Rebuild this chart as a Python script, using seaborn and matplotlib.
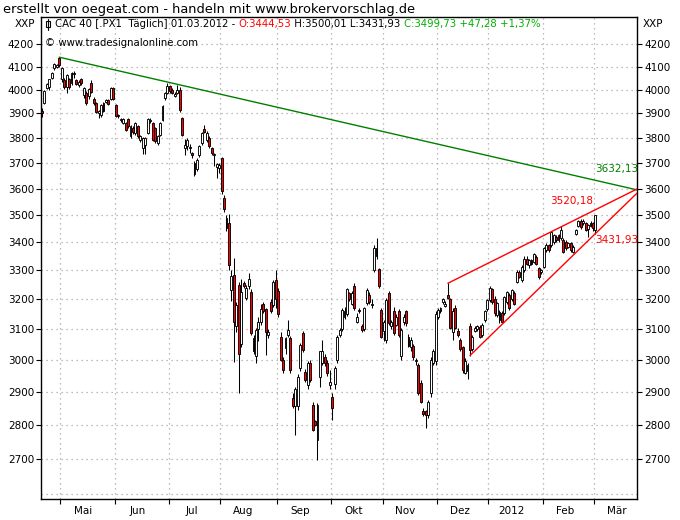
import numpy as np
import pandas as pd
import matplotlib
matplotlib.use("Agg")
import matplotlib.pyplot as plt
import seaborn as sns
from matplotlib.ticker import FixedLocator, FixedFormatter, NullLocator, NullFormatter
from matplotlib.patches import Rectangle
from matplotlib.lines import Line2D

# ---------------- data (CAC 40 daily, 18.04.2011 - 01.03.2012) ----------------
opens = [
    3912, 3945, 4008, 4010, 4049, 4092, 4098, 4138, 4045, 4042,
    4012, 4045, 4027, 4072, 4040, 4020, 4046, 3978, 3985, 3975,
    4027, 3962, 3942, 3900, 3892, 3942, 3950, 3955, 3962, 4006,
    3934, 3888, 3872, 3862, 3862, 3876, 3806, 3840, 3820, 3848,
    3792, 3758, 3770, 3820, 3868, 3860, 3840, 3780, 3813, 3874,
    3965, 3986, 4015, 4000, 3975, 3988, 4000, 3880, 3760, 3766,
    3765, 3738, 3700, 3675, 3730, 3780, 3835, 3793, 3800, 3760,
    3730, 3685, 3680, 3720, 3565, 3490, 3470, 3232, 3285, 3110,
    3250, 3050, 3255, 3205, 3245, 3225, 3070, 3013, 3100, 3125,
    3185, 3168, 3080, 3190, 3180, 3266, 3227, 3075, 3000, 3037,
    3080, 3070, 2880, 2855, 2855, 2973, 3086, 2963, 2922, 2990,
    2860, 2810, 2756, 2947, 2990, 3010, 2990, 2920, 2885, 2925,
    3000, 3080, 3100, 3140, 3150, 3220, 3185, 3245, 3124, 3165,
    3110, 3100, 3186, 3215, 3180, 3301, 3380, 3306, 3163, 3095,
    3064, 3220, 3110, 3160, 3115, 3160, 3013, 3125, 3160, 3075,
    3040, 3045, 2995, 2985, 2927, 2840, 2840, 2830, 2895, 2990,
    2995, 3140, 3160, 3190, 3178, 3215, 3200, 3090, 3170, 3095,
    3065, 3040, 2960, 2965, 3110, 3035, 3095, 3100, 3108, 3080,
    3130, 3167, 3197, 3236, 3202, 3147, 3158, 3152, 3152, 3192,
    3214, 3200, 3220, 3260, 3295, 3266, 3301, 3342, 3318, 3336,
    3330, 3348, 3307, 3295, 3313, 3372, 3390, 3390, 3400, 3420,
    3408, 3416, 3408, 3400, 3384, 3396, 3366, 3430, 3460, 3478,
    3470, 3470, 3450, 3460, 3470, 3444.53,
]
highs = [
    3922, 4000, 4030, 4048, 4078, 4115, 4112, 4141, 4100, 4050,
    4068, 4052, 4076, 4082, 4048, 4040, 4052, 4010, 3995, 4008,
    4040, 3968, 3946, 3915, 3940, 3950, 3960, 3962, 4010, 4012,
    3940, 3896, 3882, 3880, 3866, 3882, 3852, 3850, 3866, 3852,
    3810, 3802, 3805, 3880, 3880, 3866, 3846, 3812, 3866, 3935,
    3990, 4027, 4020, 4008, 3990, 4020, 4010, 3885, 3795, 3800,
    3775, 3745, 3708, 3718, 3770, 3825, 3852, 3830, 3808, 3765,
    3740, 3700, 3700, 3725, 3575, 3500, 3505, 3300, 3345, 3190,
    3260, 3270, 3262, 3250, 3290, 3235, 3080, 3105, 3140, 3185,
    3190, 3172, 3100, 3200, 3265, 3300, 3240, 3090, 3010, 3075,
    3130, 3078, 2895, 2915, 2955, 3055, 3095, 2970, 2995, 3000,
    2870, 2815, 2865, 3030, 3064, 3020, 3000, 2968, 2895, 2980,
    3080, 3105, 3170, 3175, 3240, 3225, 3230, 3255, 3155, 3170,
    3118, 3175, 3240, 3225, 3200, 3390, 3415, 3310, 3170, 3130,
    3205, 3230, 3130, 3175, 3150, 3168, 3105, 3150, 3165, 3085,
    3075, 3050, 3005, 2990, 2935, 2850, 2845, 2875, 3010, 3035,
    3160, 3170, 3175, 3205, 3195, 3255, 3205, 3170, 3180, 3105,
    3070, 3045, 3005, 2990, 3120, 3080, 3110, 3115, 3115, 3120,
    3165, 3200, 3246, 3240, 3210, 3192, 3165, 3160, 3212, 3230,
    3220, 3235, 3228, 3300, 3302, 3318, 3350, 3350, 3342, 3342,
    3362, 3355, 3312, 3305, 3384, 3396, 3395, 3442, 3432, 3428,
    3432, 3458, 3415, 3408, 3400, 3402, 3392, 3450, 3482, 3484,
    3486, 3476, 3468, 3478, 3474, 3500.01,
]
lows = [
    3885, 3938, 4002, 4000, 4044, 4085, 4092, 4100, 4035, 4002,
    3984, 4005, 4020, 4052, 4018, 4010, 4022, 3965, 3935, 3960,
    3985, 3935, 3900, 3880, 3885, 3905, 3945, 3935, 3955, 3955,
    3885, 3880, 3865, 3855, 3828, 3840, 3800, 3815, 3812, 3800,
    3785, 3737, 3737, 3815, 3860, 3786, 3780, 3772, 3808, 3868,
    3958, 3980, 3988, 3980, 3968, 3980, 3905, 3808, 3733, 3750,
    3740, 3720, 3650, 3668, 3722, 3772, 3820, 3785, 3760, 3733,
    3687, 3640, 3660, 3578, 3512, 3440, 3300, 3195, 2992, 3090,
    2895, 3040, 3238, 3198, 3235, 3080, 3020, 2990, 3060, 3115,
    3155, 3016, 3070, 3155, 3175, 3170, 3140, 2995, 2960, 3020,
    3075, 2960, 2850, 2770, 2845, 2965, 3025, 2930, 2910, 2930,
    2780, 2795, 2698, 2915, 2985, 2980, 2950, 2910, 2815, 2910,
    2990, 3075, 3095, 3135, 3145, 3195, 3180, 3165, 3120, 3155,
    3090, 3095, 3180, 3185, 3170, 3295, 3340, 3240, 3070, 3060,
    3055, 3115, 3100, 3080, 3110, 3075, 3000, 3115, 3110, 3040,
    3030, 3000, 2985, 2890, 2865, 2825, 2790, 2820, 2885, 2985,
    2985, 3135, 3155, 3185, 3175, 3200, 3100, 3065, 3100, 3075,
    3030, 2960, 2955, 2940, 3014, 3030, 3090, 3095, 3070, 3075,
    3125, 3160, 3190, 3185, 3145, 3140, 3120, 3120, 3148, 3185,
    3165, 3195, 3180, 3255, 3272, 3260, 3295, 3318, 3310, 3318,
    3325, 3318, 3270, 3288, 3308, 3366, 3366, 3384, 3395, 3400,
    3402, 3410, 3360, 3372, 3378, 3366, 3360, 3425, 3455, 3450,
    3465, 3440, 3420, 3455, 3442, 3431.93,
]
closes = [
    3900, 3996, 4024, 4044, 4072, 4110, 4105, 4106, 4093, 4012,
    4064, 4012, 4071, 4066, 4025, 4035, 4027, 4006, 3942, 4004,
    3991, 3945, 3905, 3910, 3934, 3912, 3955, 3941, 4006, 3962,
    3891, 3893, 3876, 3876, 3834, 3848, 3848, 3825, 3862, 3806,
    3806, 3799, 3799, 3876, 3872, 3793, 3786, 3806, 3860, 3930,
    3986, 4015, 3993, 3986, 3982, 4000, 3916, 3813, 3773, 3793,
    3758, 3732, 3655, 3713, 3766, 3820, 3825, 3820, 3766, 3739,
    3735, 3695, 3690, 3590, 3522, 3452, 3320, 3280, 3125, 3180,
    3020, 3225, 3245, 3240, 3270, 3087, 3030, 3098, 3125, 3168,
    3160, 3092, 3092, 3160, 3260, 3200, 3150, 3000, 2968, 3070,
    3097, 2968, 2855, 2910, 2947, 3048, 3032, 2937, 2990, 2937,
    2785, 2800, 2860, 3027, 3027, 2990, 2960, 2930, 2850, 2973,
    3075, 3097, 3163, 3160, 3235, 3200, 3220, 3170, 3140, 3160,
    3097, 3170, 3231, 3190, 3185, 3380, 3350, 3247, 3075, 3125,
    3197, 3120, 3125, 3087, 3140, 3080, 3097, 3140, 3120, 3045,
    3064, 3008, 3000, 2895, 2870, 2832, 2830, 2870, 3000, 3027,
    3150, 3163, 3170, 3200, 3185, 3205, 3105, 3160, 3105, 3080,
    3035, 2968, 2998, 2985, 3032, 3075, 3105, 3110, 3075, 3115,
    3160, 3197, 3240, 3192, 3152, 3186, 3130, 3125, 3208, 3225,
    3169, 3231, 3185, 3295, 3278, 3313, 3342, 3324, 3336, 3324,
    3358, 3324, 3278, 3301, 3378, 3390, 3372, 3436, 3428, 3408,
    3428, 3445, 3367, 3378, 3396, 3372, 3384, 3445, 3478, 3455,
    3480, 3445, 3465, 3470, 3452, 3499.73,
]

# trend lines: anchor bar index and value
green_idx = [7, 225]
green_val = [4141.0, 3632.13]
red_up_idx = [165, 225]
red_up_val = [3255.0, 3520.18]
red_lo_idx = [174, 225]
red_lo_val = [3014.0, 3431.93]

month_labels = ["Mai", "Jun", "Jul", "Aug", "Sep", "Okt", "Nov", "Dez", "2012", "Feb", "Mär"]
y_ticks = [2700, 2800, 2900, 3000, 3100, 3200, 3300, 3400, 3500,
           3600, 3700, 3800, 3900, 4000, 4100, 4200]
grid_levels = [2600] + y_ticks

title = "erstellt von oegeat.com - handeln mit www.brokervorschlag.de"

# ---------------- figure ----------------
sns.set_theme(style="white")
plt.rcParams["font.family"] = ["DejaVu Sans"]

W, H = 680, 520
fig = plt.figure(figsize=(W / 100, H / 100), dpi=100, facecolor="white")
L, R, T, B = 41, 637, 17, 499
ax = fig.add_axes([L / W, 1 - B / H, (R - L) / W, (B - T) / H])
ax.set_facecolor("white")

o = np.array(opens, float)
h = np.array(highs, float)
l = np.array(lows, float)
c = np.array(closes, float)
n = len(c)
x = np.arange(n)

dates = pd.bdate_range("2011-04-18", "2012-03-01", freq="C",
                       holidays=["2011-04-22", "2011-04-25", "2011-12-26"])[:n]

ax.set_yscale("log")
x_left, x_right = -0.4, 241.9
ax.set_xlim(x_left, x_right)
ax.set_ylim(2587, 4322)

# grid
grid_kw = dict(color="#a8a8a8", lw=0.9, ls=(0, (1, 3)), zorder=0)
for g in grid_levels:
    ax.axhline(g, **grid_kw)
bounds = [i - 0.5 for i in range(1, n) if dates[i].month != dates[i - 1].month]
for b in bounds:
    ax.axvline(b, **grid_kw)

# candles
up = c >= o
ax.vlines(x, l, h, color="black", lw=0.75, zorder=2)
bw = 0.78
ax.bar(x[up], (c - o)[up], bottom=o[up], width=bw, color="white",
       edgecolor="black", linewidth=0.65, zorder=3)
ax.bar(x[~up], (o - c)[~up], bottom=c[~up], width=bw, color="#ff0000",
       edgecolor="black", linewidth=0.65, zorder=3)


def extend(idx, val, x_end):
    slope = (np.log(val[1]) - np.log(val[0])) / (idx[1] - idx[0])
    return [idx[0], x_end], [val[0], float(np.exp(np.log(val[0]) + slope * (x_end - idx[0])))]


for idx, val, col in [(green_idx, green_val, "#008000"),
                      (red_up_idx, red_up_val, "#ff0000"),
                      (red_lo_idx, red_lo_val, "#ff0000")]:
    xs, ys = extend(idx, val, x_right)
    sns.lineplot(x=xs, y=ys, ax=ax, color=col, lw=1.0, zorder=4)


def fmt(v):
    return f"{v:.2f}".replace(".", ",")


lab_fs = 7.5
ax.annotate(fmt(green_val[1]), xy=(green_idx[1], green_val[1]), xytext=(0, 4.5),
            textcoords="offset points", ha="left", va="bottom", color="#008000", fontsize=lab_fs)
ax.annotate(fmt(red_up_val[1]), xy=(red_up_idx[1], red_up_val[1]), xytext=(-1.5, 3),
            textcoords="offset points", ha="right", va="bottom", color="#ff0000", fontsize=lab_fs)
ax.annotate(fmt(red_lo_val[1]), xy=(red_lo_idx[1], red_lo_val[1]), xytext=(0, -1),
            textcoords="offset points", ha="left", va="top", color="#ff0000", fontsize=lab_fs)

# axes styling
for s in ax.spines.values():
    s.set_color("black")
    s.set_linewidth(1.0)

ax.yaxis.set_major_locator(FixedLocator(y_ticks))
ax.yaxis.set_major_formatter(FixedFormatter([str(t) for t in y_ticks]))
ax.yaxis.set_minor_locator(NullLocator())
ax.yaxis.set_minor_formatter(NullFormatter())
ax.tick_params(axis="y", which="major", left=True, right=True, labelleft=True,
               labelright=True, direction="out", length=3.5, width=0.8,
               pad=1.5, labelsize=7.5, colors="black")

label_pos = [b + 9.3 for b in bounds]
ax.xaxis.set_major_locator(FixedLocator(bounds))
ax.xaxis.set_major_formatter(NullFormatter())
ax.xaxis.set_minor_locator(FixedLocator(label_pos))
ax.xaxis.set_minor_formatter(FixedFormatter(month_labels[:len(label_pos)]))
ax.tick_params(axis="x", which="major", bottom=True, direction="out", length=3.5,
               width=0.8, colors="black")
ax.tick_params(axis="x", which="minor", bottom=True, length=0, pad=5,
               labelsize=7.5, labelcolor="black")
ax.set_xlabel("")
ax.set_ylabel("")
ax.grid(False)


def px(xp, yp):
    return xp / W, 1 - yp / H


# title and header texts
fig.text(*px(3, 9), title, fontsize=9.4, va="center", ha="left", color="black")
fig.text(*px(35, 24), "XXP", fontsize=7.5, va="center", ha="right", color="black")
fig.text(*px(643, 24), "XXP", fontsize=7.5, va="center", ha="left", color="black")

# small candle icon in header
fig.add_artist(Line2D([48 / W, 48 / W], [1 - 30 / H, 1 - 19 / H], color="black", lw=0.8,
                      transform=fig.transFigure))
fig.add_artist(Rectangle(px(46, 27), 4 / W, 6 / H, facecolor="white", edgecolor="black",
                         lw=0.8, transform=fig.transFigure))

parts = [("CAC 40 [.PX1  Täglich] 01.03.2012 - ", "black"),
         (f"O:{fmt(opens[-1])}", "#ff0000"),
         (f" H:{fmt(highs[-1])} L:{fmt(lows[-1])} ", "black"),
         (f"C:{fmt(closes[-1])} +47,28 +1,37%", "#00b000")]
for s, col in parts:
    fig.text(0, 0, s, fontsize=7.3, va="center", ha="left", color=col)
fig.canvas.draw()
renderer = fig.canvas.get_renderer()
xcur = px(55, 24)[0]
for tt in fig.texts[-len(parts):]:
    tt.set_position((xcur, px(0, 24)[1]))
    bb = tt.get_window_extent(renderer)
    xcur += bb.width / W
fig.text(*px(45, 43), "© www.tradesignalonline.com", fontsize=7.3, va="center",
         ha="left", color="black")

fig.savefig("out.png", dpi=100, facecolor="white")
